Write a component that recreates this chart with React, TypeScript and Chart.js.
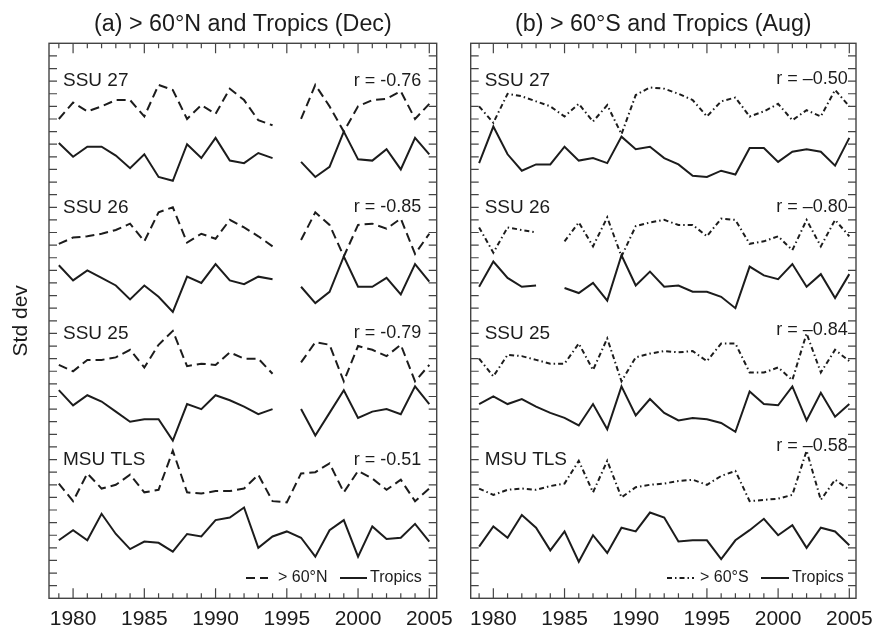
import React, { useEffect, useRef } from 'react';
import { Chart, registerables } from 'chart.js';

Chart.register(...registerables);

// ---------- data ----------
const years = [1979, 1980, 1981, 1982, 1983, 1984, 1985, 1986, 1987, 1988, 1989, 1990, 1991, 1992, 1993, 1994, 1995, 1996, 1997, 1998, 1999, 2000, 2001, 2002, 2003, 2004, 2005];

const groupNames = ['SSU 27', 'SSU 26', 'SSU 25', 'MSU TLS'];

// Panel (a): > 60°N (dashed) and Tropics (solid), December
const n27Polar = [38.0, 39.3, 38.6, 39.0, 39.5, 39.5, 38.2, 40.7, 40.3, 38.0, 39.1, 38.4, 40.4, 39.5, 37.9, 37.5, null, 38.0, 40.7, 39.0, 37.0, 39.0, 39.5, 39.6, 40.2, 38.0, 39.2];
const n27Trop = [36.1, 35.0, 35.8, 35.8, 35.1, 34.1, 35.2, 33.4, 33.1, 36.0, 34.9, 36.5, 34.7, 34.5, 35.3, 34.9, null, 34.6, 33.4, 34.2, 37.0, 34.8, 34.7, 35.6, 34.0, 36.5, 35.2];
const n26Polar = [28.1, 28.6, 28.7, 28.9, 29.2, 29.7, 28.3, 30.6, 31.0, 28.2, 28.9, 28.5, 30.0, 29.4, 28.7, 27.9, null, 28.4, 30.6, 29.6, 27.1, 29.6, 29.7, 29.3, 30.1, 27.3, 28.9];
const n26Trop = [26.4, 25.2, 26.0, 25.4, 24.8, 23.7, 24.8, 23.9, 22.7, 25.5, 25.0, 26.5, 25.2, 24.9, 25.5, 25.3, null, 24.7, 23.4, 24.3, 27.1, 24.7, 24.7, 25.4, 24.1, 26.5, 25.1];
const n25Polar = [18.5, 18.0, 18.9, 18.9, 19.1, 19.7, 18.3, 20.1, 21.2, 18.4, 18.6, 18.5, 19.5, 19.0, 19.0, 17.8, null, 18.7, 20.3, 20.1, 17.2, 20.0, 19.7, 19.2, 20.1, 17.2, 18.5];
const n25Trop = [16.5, 15.3, 16.1, 15.6, 14.8, 14.0, 14.2, 14.2, 12.5, 15.4, 15.0, 16.1, 15.7, 15.2, 14.6, 15.0, null, 15.0, 12.9, 14.7, 16.5, 14.3, 14.8, 15.0, 14.6, 16.8, 15.4];
const nTlsPolar = [9.1, 7.7, 9.9, 8.7, 9.0, 9.8, 8.4, 8.6, 11.7, 8.4, 8.3, 8.5, 8.5, 8.7, 9.8, 7.7, 7.6, 9.9, 10.0, 10.7, 8.4, 10.1, 9.5, 8.6, 9.4, 7.7, 8.7];
const nTlsTrop = [4.6, 5.4, 4.6, 6.7, 5.1, 3.9, 4.5, 4.4, 3.7, 5.1, 4.9, 6.2, 6.4, 7.2, 4.0, 4.9, 5.3, 4.8, 3.3, 5.4, 6.2, 3.3, 5.7, 4.7, 4.8, 5.9, 4.5];
const northR = ['r = -0.76', 'r = -0.85', 'r = -0.79', 'r = -0.51'];

// Panel (b): > 60°S (dash-dot) and Tropics (solid), August
const s27Polar = [39.0, 37.7, 40.0, 39.8, 39.4, 39.0, 38.2, 39.2, 37.8, 39.1, 36.8, 39.9, 40.5, 40.4, 40.0, 39.5, 38.2, 39.4, 39.7, 38.2, 38.6, 39.2, 37.9, 38.7, 38.2, 40.3, 39.0];
const s27Trop = [34.5, 37.4, 35.2, 33.9, 34.4, 34.4, 35.8, 34.7, 34.9, 34.5, 36.6, 35.6, 35.8, 34.9, 34.4, 33.5, 33.4, 33.9, 33.6, 35.7, 35.7, 34.6, 35.4, 35.6, 35.4, 34.3, 36.5];
const s26Polar = [29.4, 27.4, 29.4, 29.2, 29.0, null, 28.3, 29.8, 27.9, 30.2, 27.1, 29.5, 29.8, 30.0, 29.6, 29.6, 28.7, 30.1, 30.0, 28.1, 28.3, 28.7, 27.6, 30.0, 27.9, 30.0, 28.7];
const s26Trop = [24.7, 26.7, 25.4, 24.7, 24.8, null, 24.6, 24.2, 25.0, 23.6, 27.2, 24.8, 25.9, 24.7, 24.8, 24.3, 24.3, 23.9, 23.0, 26.3, 25.6, 25.3, 26.5, 24.7, 25.7, 23.8, 25.7];
const s25Polar = [19.0, 17.6, 19.3, 19.2, 18.9, 18.6, 18.6, 20.2, 18.1, 20.6, 17.2, 19.1, 19.4, 19.6, 19.5, 19.6, 18.8, 20.2, 20.2, 17.9, 17.9, 18.3, 17.3, 21.0, 17.9, 19.7, 18.8];
const s25Trop = [15.4, 16.0, 15.4, 15.8, 15.2, 14.7, 14.3, 13.7, 15.4, 13.4, 16.8, 14.5, 15.8, 14.7, 14.1, 14.3, 14.2, 13.9, 13.2, 16.4, 15.4, 15.3, 16.8, 14.1, 16.3, 14.4, 15.4];
const sTlsPolar = [8.7, 8.2, 8.6, 8.7, 8.6, 8.9, 9.1, 10.9, 8.4, 10.9, 8.0, 8.8, 9.0, 9.1, 9.3, 9.4, 9.0, 9.7, 10.1, 7.7, 7.8, 7.9, 8.2, 11.7, 7.8, 9.4, 8.6];
const sTlsTrop = [4.1, 5.7, 4.8, 6.6, 5.6, 3.8, 5.3, 2.9, 5.0, 3.6, 5.6, 5.3, 6.8, 6.4, 4.5, 4.6, 4.6, 3.1, 4.6, 5.4, 6.3, 5.0, 5.8, 4.0, 5.6, 5.3, 4.2];
const southR = ['r = \u20130.50', 'r = \u20130.80', 'r = \u20130.84', 'r = \u20130.58'];

// ---------- style ----------
const FONT = '"Liberation Sans", Arial, Helvetica, sans-serif';
const INK = '#1c1c1c';
const FRAME = '#444444';
const Y_MIN = 0;
const Y_MAX = 44;

type PanelSpec = {
  key: string;
  title: string;
  polarName: string;
  dash: number[];
  pairs: (number | null)[][][];
  rLabels: string[];
  rY: number[];
  nameY: number[];
  rInset: number;
  legendOffsets: number[];
  xMin: number;
  xMax: number;
  left: number;
  width: number;
  padL: number;
  padR: number;
  yLabel: boolean;
};

const panels: PanelSpec[] = [
  {
    key: 'a',
    title: '(a) > 60\u00b0N and Tropics (Dec)',
    polarName: '> 60\u00b0N',
    dash: [9, 5],
    pairs: [[n27Polar, n27Trop], [n26Polar, n26Trop], [n25Polar, n25Trop], [nTlsPolar, nTlsTrop]],
    rLabels: northR,
    rY: [41, 31, 21, 11],
    nameY: [41, 31, 21, 11],
    rInset: 15.5,
    legendOffsets: [190.7, 168.7, 158.7, 96.7, 69.7, 66.7],
    xMin: 1978.31,
    xMax: 2005.52,
    left: 0,
    width: 452,
    padL: 49,
    padR: 15.3,
    yLabel: true,
  },
  {
    key: 'b',
    title: '(b) > 60\u00b0S and Tropics (Aug)',
    polarName: '> 60\u00b0S',
    dash: [5, 3, 1.5, 3],
    pairs: [[s27Polar, s27Trop], [s26Polar, s26Trop], [s25Polar, s25Trop], [sTlsPolar, sTlsTrop]],
    rLabels: southR,
    rY: [41.2, 31, 21.3, 12.1],
    nameY: [41, 31, 21, 11],
    rInset: 8.3,
    legendOffsets: [189, 162, 156, 95, 67, 64],
    xMin: 1978.41,
    xMax: 2005.47,
    left: 452,
    width: 420,
    padL: 18.7,
    padR: 16,
    yLabel: false,
  },
];

const HEIGHT = 629;

function makeOverlay(p: PanelSpec) {
  return {
    id: 'overlay' + p.key,
    afterDraw(chart: any) {
      const { ctx, chartArea: a } = chart;
      const xs = chart.scales.x;
      const ys = chart.scales.y;
      ctx.save();
      // frame
      ctx.setLineDash([]);
      ctx.strokeStyle = FRAME;
      ctx.lineWidth = 1.4;
      ctx.strokeRect(a.left, a.top, a.right - a.left, a.bottom - a.top);
      // inward ticks
      ctx.lineWidth = 1.2;
      ctx.beginPath();
      for (const yr of years) {
        const px = xs.getPixelForValue(yr);
        const len = yr % 5 === 0 ? 10 : 5;
        ctx.moveTo(px, a.bottom);
        ctx.lineTo(px, a.bottom - len);
        ctx.moveTo(px, a.top);
        ctx.lineTo(px, a.top + len);
      }
      for (let v = Y_MIN + 1; v < Y_MAX; v++) {
        const py = ys.getPixelForValue(v);
        ctx.moveTo(a.left, py);
        ctx.lineTo(a.left + 8, py);
        ctx.moveTo(a.right, py);
        ctx.lineTo(a.right - 8, py);
      }
      ctx.stroke();

      ctx.fillStyle = INK;
      // title
      ctx.font = `23.3px ${FONT}`;
      ctx.textAlign = 'center';
      ctx.textBaseline = 'alphabetic';
      ctx.fillText(p.title, (a.left + a.right) / 2, 31);

      // group names and correlations
      ctx.textBaseline = 'middle';
      ctx.font = `19px ${FONT}`;
      ctx.textAlign = 'left';
      groupNames.forEach((g, i) => ctx.fillText(g, a.left + 14, ys.getPixelForValue(p.nameY[i])));
      ctx.font = `18px ${FONT}`;
      ctx.textAlign = 'right';
      p.rLabels.forEach((r, i) => ctx.fillText(r, a.right - p.rInset, ys.getPixelForValue(p.rY[i])));

      // legend
      const lo = p.legendOffsets;
      const ly = 578;
      ctx.strokeStyle = INK;
      ctx.lineWidth = 2;
      ctx.setLineDash(p.dash);
      ctx.beginPath();
      ctx.moveTo(a.right - lo[0], ly);
      ctx.lineTo(a.right - lo[1], ly);
      ctx.stroke();
      ctx.setLineDash([]);
      ctx.beginPath();
      ctx.moveTo(a.right - lo[3], ly);
      ctx.lineTo(a.right - lo[4], ly);
      ctx.stroke();
      ctx.font = `16px ${FONT}`;
      ctx.textAlign = 'left';
      ctx.fillText(p.polarName, a.right - lo[2], ly);
      ctx.fillText('Tropics', a.right - lo[5], ly);

      // y axis title
      if (p.yLabel) {
        ctx.save();
        ctx.translate(21, (a.top + a.bottom) / 2);
        ctx.rotate(-Math.PI / 2);
        ctx.font = `21px ${FONT}`;
        ctx.textAlign = 'center';
        ctx.textBaseline = 'middle';
        ctx.fillText('Std dev', 0, 0);
        ctx.restore();
      }
      ctx.restore();
    },
  };
}

function Panel({ p }: { p: PanelSpec }) {
  const ref = useRef<HTMLCanvasElement | null>(null);
  useEffect(() => {
    if (!ref.current) return;
    const datasets: any[] = [];
    p.pairs.forEach(([polar, trop]) => {
      datasets.push({
        data: years.map((x, i) => ({ x, y: polar[i] })),
        borderColor: INK,
        borderWidth: 2,
        borderDash: p.dash,
        pointRadius: 0,
        tension: 0,
        spanGaps: false,
        fill: false,
      });
      datasets.push({
        data: years.map((x, i) => ({ x, y: trop[i] })),
        borderColor: INK,
        borderWidth: 2,
        pointRadius: 0,
        tension: 0,
        spanGaps: false,
        fill: false,
      });
    });
    const chart = new Chart(ref.current, {
      type: 'line',
      data: { datasets },
      options: {
        responsive: false,
        animation: false,
        events: [],
        layout: { padding: { left: p.padL, right: p.padR, top: 43.3, bottom: 0 } },
        plugins: {
          legend: { display: false },
          title: { display: false },
          tooltip: { enabled: false },
        },
        scales: {
          x: {
            type: 'linear',
            min: p.xMin,
            max: p.xMax,
            afterBuildTicks: (s: any) => {
              s.ticks = years.map((v) => ({ value: v }));
            },
            afterFit: (s: any) => {
              s.height = 30.7;
              s.paddingLeft = 0;
              s.paddingRight = 0;
            },
            grid: { display: false, drawTicks: false },
            border: { display: false },
            ticks: {
              autoSkip: false,
              maxRotation: 0,
              minRotation: 0,
              padding: 8.5,
              color: INK,
              font: { family: FONT, size: 21 },
              callback: (v: any) => (Number(v) % 5 === 0 ? String(v) : ''),
            },
          },
          y: { display: false, min: Y_MIN, max: Y_MAX },
        },
      },
      plugins: [makeOverlay(p)],
    } as any);
    return () => chart.destroy();
  }, [p]);
  return (
    <canvas
      ref={ref}
      width={p.width}
      height={HEIGHT}
      style={{ position: 'absolute', left: p.left, top: 0, width: p.width, height: HEIGHT }}
    />
  );
}

export default function App() {
  return (
    <div style={{ position: 'absolute', left: 0, top: 0, width: 872, height: HEIGHT, background: '#fff' }}>
      {panels.map((p) => (
        <Panel key={p.key} p={p} />
      ))}
    </div>
  );
}
